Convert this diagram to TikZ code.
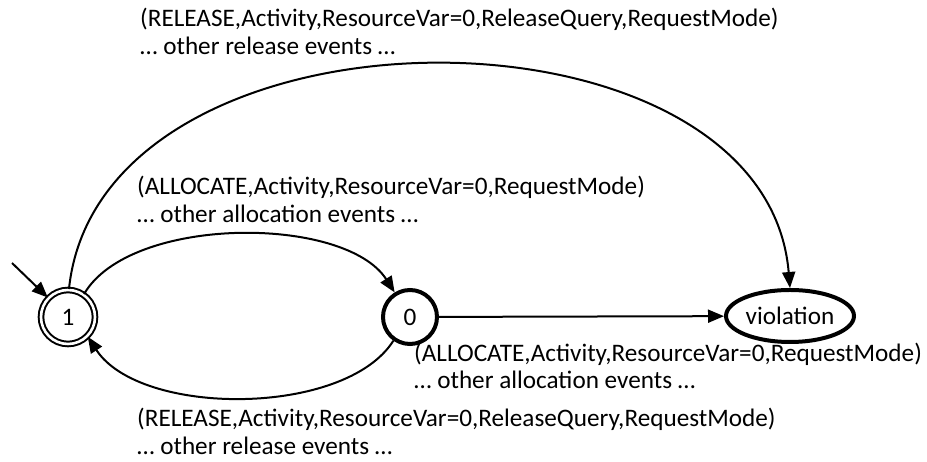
\documentclass[tikz,border=0pt]{standalone}
\usepackage{fontspec}
\setmainfont{Carlito}
\usetikzlibrary{arrows.meta,shapes.geometric}
\begin{document}
\begin{tikzpicture}[x=1pt,y=1pt,
  every node/.style={font=\fontsize{25.2}{28}\selectfont},
  state/.style={circle,draw,inner sep=0pt,minimum size=54pt},
  accept/.style={state,double,line width=2pt,double distance=2.6pt},
  plain/.style={state,line width=4pt},
  bad/.style={ellipse,draw,line width=4pt,inner sep=0pt,minimum width=128pt,minimum height=52pt},
  edge/.style={line width=2pt,-{Triangle[length=16pt,width=13pt]}},
  lbl/.style={anchor=base west,inner sep=0pt}]
\useasboundingbox (0,0) rectangle (927,462);
\node[accept] (n1) at (68,145) {1};
\node[plain] (n0) at (410,145) {0};
\node[bad] (v) at (790,146) {violation};
\coordinate (init) at (12,199);
\draw[edge] (init) -- (n1);
\draw[edge] (n1.88) .. controls (100,472) and (765,472) .. (v.north);
\draw[edge] (n1.55) .. controls (130,247) and (345,247) .. (n0.122);
\draw[edge] (n0.235) .. controls (345,45) and (140,45) .. (n1.-45);
\draw[edge] (n0) -- (v);
\node[lbl] (ta) at (140,435) {(RELEASE,Activity,ResourceVar=0,ReleaseQuery,RequestMode)};
\node[lbl] (tb) at (140,407) {… other release events …};
\node[lbl] (ua) at (137,267) {(ALLOCATE,Activity,ResourceVar=0,RequestMode)};
\node[lbl] (ub) at (137,239) {… other allocation events …};
\node[lbl] (ra) at (414,100) {(ALLOCATE,Activity,ResourceVar=0,RequestMode)};
\node[lbl] (rb) at (414,73) {… other allocation events …};
\node[lbl] (ba) at (137,35) {(RELEASE,Activity,ResourceVar=0,ReleaseQuery,RequestMode)};
\node[lbl] (bb) at (137,7) {… other release events …};
\end{tikzpicture}
\end{document}
